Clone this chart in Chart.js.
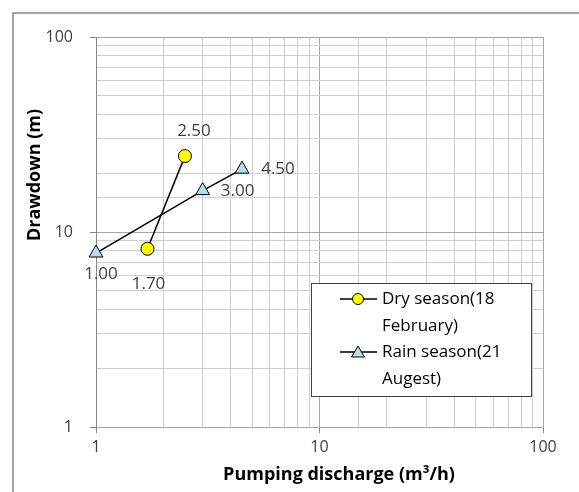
<!DOCTYPE html>
<html>
<head>
<meta charset="utf-8">
<script src="https://cdn.jsdelivr.net/npm/chart.js@4.4.0/dist/chart.umd.min.js"></script>
<style>
  html, body { margin: 0; padding: 0; background: #fff; }
  #wrap { width: 579px; height: 492px; position: relative; }
</style>
</head>
<body>
<div id="wrap"><canvas id="canvas" width="579" height="492"></canvas></div>
<script>
// data
var dryDischarge = [1.7, 2.5];
var dryDrawdown = [8.2, 24.5];
var rainDischarge = [1.0, 3.0, 4.5];
var rainDrawdown = [7.8, 16.3, 21.0];
var majorTicks = [1, 10, 100];
var seriesNames = [['Dry season(18', 'February)'], ['Rain season(21', 'Augest)']];
var xTitle = 'Pumping discharge (m³/h)';
var yTitle = 'Drawdown (m)';

// where each value label sits relative to its point (px)
var dryLabelOffset = [[1, 35], [9, -25]];
var rainLabelOffset = [[5, 21], [35, 1], [36, 0]];

var FONT = '"Open Sans", "Liberation Sans", sans-serif';

function toXY(xs, ys) {
	var out = [];
	for (var i = 0; i < xs.length; i++) out.push({x: xs[i], y: ys[i]});
	return out;
}
function isMajor(v) {
	return majorTicks.indexOf(v) !== -1;
}

var pointLabels = {
	id: 'pointLabels',
	afterDatasetsDraw: function(chart) {
		var ctx = chart.ctx;
		var offs = [dryLabelOffset, rainLabelOffset];
		ctx.save();
		ctx.font = '17px ' + FONT;
		ctx.fillStyle = '#404040';
		ctx.textAlign = 'center';
		ctx.textBaseline = 'middle';
		chart.data.datasets.forEach(function(ds, i) {
			chart.getDatasetMeta(i).data.forEach(function(pt, j) {
				ctx.fillText(ds.data[j].x.toFixed(2), pt.x + offs[i][j][0], pt.y + offs[i][j][1]);
			});
		});
		ctx.restore();
	}
};

// excel-ish axis titles, legend box and outer frame
var decorations = {
	id: 'decorations',
	afterDraw: function(chart) {
		var ctx = chart.ctx;
		ctx.save();
		ctx.strokeStyle = '#868686';
		ctx.lineWidth = 1.5;
		ctx.beginPath();
		ctx.moveTo(13, 492);
		ctx.lineTo(13, 13);
		ctx.lineTo(579, 13);
		ctx.stroke();

		ctx.fillStyle = '#000';
		ctx.font = 'bold 18px ' + FONT;
		ctx.textAlign = 'center';
		ctx.textBaseline = 'middle';
		ctx.fillText(xTitle, 339, 475);
		ctx.save();
		ctx.translate(35, 175);
		ctx.rotate(-Math.PI / 2);
		ctx.fillText(yTitle, 0, 0);
		ctx.restore();

		var bx = 311, by = 283, bw = 220, bh = 113;
		ctx.fillStyle = '#fff';
		ctx.fillRect(bx, by, bw, bh);
		ctx.strokeStyle = '#404040';
		ctx.lineWidth = 1;
		ctx.strokeRect(bx + 0.5, by + 0.5, bw, bh);

		var rows = [299, 352];
		ctx.font = '17px ' + FONT;
		ctx.textBaseline = 'middle';
		ctx.textAlign = 'left';
		rows.forEach(function(y, i) {
			ctx.strokeStyle = '#000';
			ctx.lineWidth = 1.5;
			ctx.beginPath();
			ctx.moveTo(340, y);
			ctx.lineTo(377, y);
			ctx.stroke();
			ctx.lineWidth = 1;
			ctx.beginPath();
			if (i === 0) {
				ctx.arc(358, y, 5.5, 0, Math.PI * 2);
				ctx.fillStyle = '#ffff00';
			} else {
				ctx.moveTo(358, y - 6);
				ctx.lineTo(364.5, y + 5);
				ctx.lineTo(351.5, y + 5);
				ctx.closePath();
				ctx.fillStyle = '#b7dee8';
			}
			ctx.fill();
			ctx.stroke();
			ctx.fillStyle = '#000';
			ctx.fillText(seriesNames[i][0], 382, y);
			ctx.fillText(seriesNames[i][1], 382, y + 27);
		});
		ctx.restore();
	}
};

window.onload = function() {
	var ctx = document.getElementById('canvas').getContext('2d');
	window.myChart = new Chart(ctx, {
		type: 'scatter',
		data: {
			datasets: [{
				label: seriesNames[0].join(' '),
				data: toXY(dryDischarge, dryDrawdown),
				showLine: true,
				clip: false,
				borderColor: '#000',
				borderWidth: 1.5,
				pointStyle: 'circle',
				pointRadius: 6.5,
				pointBackgroundColor: '#ffff00',
				pointBorderColor: '#000',
				pointBorderWidth: 1
			}, {
				label: seriesNames[1].join(' '),
				data: toXY(rainDischarge, rainDrawdown),
				showLine: true,
				clip: false,
				borderColor: '#000',
				borderWidth: 1.5,
				pointStyle: 'triangle',
				pointRadius: 8,
				pointBackgroundColor: '#b7dee8',
				pointBorderColor: '#000',
				pointBorderWidth: 1
			}]
		},
		options: {
			responsive: false,
			animation: false,
			layout: { padding: { left: 0, top: 37, right: 36, bottom: 0 } },
			plugins: {
				legend: { display: false },
				tooltip: { enabled: false }
			},
			scales: {
				x: {
					type: 'logarithmic',
					min: 1,
					max: 100,
					afterFit: function(s) { s.height = 65; },
					border: { color: '#a6a6a6', width: 1 },
					grid: {
						color: function(c) { return isMajor(c.tick && c.tick.value) ? '#a6a6a6' : '#cfcfcf'; },
						tickColor: function(c) { return isMajor(c.tick && c.tick.value) ? '#868686' : 'rgba(0,0,0,0)'; },
						tickLength: 6
					},
					ticks: {
						autoSkip: false,
						maxRotation: 0,
						padding: 5,
						color: '#404040',
						font: { family: FONT, size: 16 },
						callback: function(v) { return isMajor(v) ? String(v) : ''; }
					}
				},
				y: {
					type: 'logarithmic',
					min: 1,
					max: 100,
					afterFit: function(s) { s.width = 96; },
					border: { color: '#868686', width: 1 },
					grid: {
						color: function(c) { return isMajor(c.tick && c.tick.value) ? '#a6a6a6' : '#cfcfcf'; },
						tickColor: function(c) { return isMajor(c.tick && c.tick.value) ? '#868686' : 'rgba(0,0,0,0)'; },
						tickLength: 6
					},
					ticks: {
						autoSkip: false,
						padding: 17,
						color: '#404040',
						font: { family: FONT, size: 16 },
						callback: function(v) { return isMajor(v) ? String(v) : ''; }
					}
				}
			}
		},
		plugins: [pointLabels, decorations]
	});
};
</script>
</body>
</html>
